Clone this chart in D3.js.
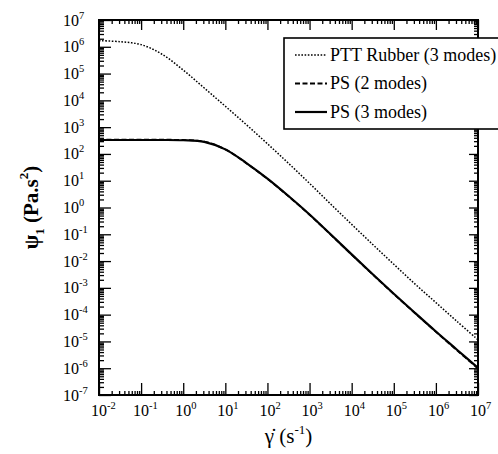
<!DOCTYPE html>
<html>
<head>
<meta charset="utf-8">
<script src="https://cdn.jsdelivr.net/npm/d3@7"></script>
<style>
  body { margin: 0; background: #fff; }
  text { font-family: "Liberation Serif", "Times New Roman", serif; fill: #000; }
</style>
</head>
<body>
<div id="chart"></div>
<script>
// shear rate exponents (log10 of s^-1) at which the curves were read
const logRate = [-2, -1.5, -1, -0.5, 0, 0.5, 1, 1.5, 2, 2.5, 3, 3.5, 4, 4.5, 5, 5.5, 6, 6.5, 7]
// log10 of psi1 (Pa.s^2)
const pttRubber3 = [6.23, 6.19, 6.08, 5.72, 5.13, 4.46, 3.78, 3.09, 2.38, 1.65, 0.90, 0.13, -0.63, -1.38, -2.12, -2.85, -3.55, -4.25, -4.94]
const ps2 = [2.53, 2.53, 2.53, 2.53, 2.52, 2.46, 2.17, 1.65, 1.07, 0.42, -0.27, -1.01, -1.76, -2.50, -3.23, -3.94, -4.64, -5.33, -6.01]
const ps3 = [2.52, 2.52, 2.52, 2.52, 2.51, 2.45, 2.17, 1.66, 1.08, 0.43, -0.26, -1.00, -1.75, -2.49, -3.22, -3.93, -4.63, -5.31, -5.99]

const xTickExps = [-2, -1, 0, 1, 2, 3, 4, 5, 6, 7]
const yTickExps = [7, 6, 5, 4, 3, 2, 1, 0, -1, -2, -3, -4, -5, -6, -7]
const legendLabels = ['PTT Rubber (3 modes)', 'PS (2 modes)', 'PS (3 modes)']

const W = 498, H = 454
const m = { left: 99, right: 20, top: 20, bottom: 59 }

const svg = d3.select('#chart').append('svg')
  .attr('width', W)
  .attr('height', H)

const x = d3.scaleLog().domain([1e-2, 1e7]).range([m.left, W - m.right])
const y = d3.scaleLog().domain([1e-7, 1e7]).range([H - m.bottom, m.top])

const minors = exps => {
  const out = []
  exps.slice(0, -1).forEach((e, i) => {
    const lo = Math.min(e, exps[i + 1])
    for (let k = 2; k < 10; k++) out.push(k * Math.pow(10, lo))
  })
  return out
}
const xMajor = xTickExps.map(e => Math.pow(10, e))
const yMajor = yTickExps.map(e => Math.pow(10, e))
const xMinor = minors(xTickExps)
const yMinor = minors(yTickExps)

const axes = svg.append('g')
function ticks(axisFn, scale, vals, size, tr) {
  axes.append('g')
    .attr('transform', tr)
    .call(axisFn(scale).tickValues(vals).tickSize(size).tickSizeOuter(0).tickFormat(''))
    .call(g => g.select('.domain').remove())
    .selectAll('line').attr('stroke', '#000').attr('stroke-width', 1.3)
}
const bottomY = H - m.bottom, rightX = W - m.right
ticks(d3.axisBottom, x, xMajor, -12, `translate(0,${bottomY})`)
ticks(d3.axisBottom, x, xMinor, -4, `translate(0,${bottomY})`)
ticks(d3.axisTop, x, xMajor, -10, `translate(0,${m.top})`)
ticks(d3.axisTop, x, xMinor, -4, `translate(0,${m.top})`)
ticks(d3.axisLeft, y, yMajor, -12, `translate(${m.left},0)`)
ticks(d3.axisLeft, y, yMinor, -5, `translate(${m.left},0)`)
ticks(d3.axisRight, y, yMajor, -9, `translate(${rightX},0)`)
ticks(d3.axisRight, y, yMinor, -4, `translate(${rightX},0)`)

// tick labels: 10 with superscript exponent
xTickExps.forEach(e => {
  const t = svg.append('text')
    .attr('x', x(Math.pow(10, e)) - 8)
    .attr('y', bottomY + 21)
    .attr('font-size', 16)
  t.append('tspan').text('10')
  t.append('tspan').attr('font-size', 10.5).attr('dy', -7).text(e)
})
yTickExps.forEach(e => {
  const t = svg.append('text')
    .attr('x', 63)
    .attr('y', y(Math.pow(10, e)) + 5.5)
    .attr('font-size', 16)
  t.append('tspan').text('10')
  t.append('tspan').attr('font-size', 10.5).attr('dy', -7).text(e)
})

// curves
const line = d3.line()
  .x(d => x(Math.pow(10, d[0])))
  .y(d => y(Math.pow(10, d[1])))
  .curve(d3.curveCatmullRom)

const series = [
  { vals: pttRubber3, dash: '1.6,1.6', width: 1.5 },
  { vals: ps3, dash: null, width: 2.2 },
  { vals: ps2, dash: '5,2.5', width: 1.8 }
]
const plot = svg.append('g')
series.forEach(s => {
  plot.append('path')
    .datum(logRate.map((r, i) => [r, s.vals[i]]))
    .attr('d', line)
    .attr('fill', 'none')
    .attr('stroke', '#000')
    .attr('stroke-width', s.width)
    .attr('stroke-dasharray', s.dash)
})

// frame
svg.append('rect')
  .attr('x', m.left).attr('y', m.top)
  .attr('width', rightX - m.left).attr('height', bottomY - m.top)
  .attr('fill', 'none').attr('stroke', '#000').attr('stroke-width', 2)

// legend
const lg = svg.append('g').attr('transform', 'translate(284,38)')
lg.append('rect')
  .attr('width', 230).attr('height', 91)
  .attr('fill', '#fff').attr('stroke', '#000').attr('stroke-width', 1.6)
const legendStyles = [series[0], series[2], series[1]]
legendLabels.forEach((lab, i) => {
  const cy = 17 + i * 28.5
  lg.append('line')
    .attr('x1', 11).attr('x2', 43).attr('y1', cy).attr('y2', cy)
    .attr('stroke', '#000')
    .attr('stroke-width', legendStyles[i].width)
    .attr('stroke-dasharray', legendStyles[i].dash)
  lg.append('text')
    .attr('x', 46).attr('y', cy + 5.5)
    .attr('font-size', 18)
    .text(lab)
})

// axis titles
const yt = svg.append('text')
  .attr('transform', `translate(38,${(m.top + bottomY) / 2}) rotate(-90)`)
  .attr('text-anchor', 'middle')
  .attr('font-size', 21)
  .attr('font-weight', 'bold')
yt.append('tspan').text('ψ')
yt.append('tspan').attr('font-size', 13).attr('dy', 6).text('1')
yt.append('tspan').attr('dy', -6).text(' (Pa.s')
yt.append('tspan').attr('font-size', 13).attr('dy', -10).text('2')
yt.append('tspan').attr('dy', 10).text(')')

const xt = svg.append('text')
  .attr('x', (m.left + rightX) / 2)
  .attr('y', 443)
  .attr('text-anchor', 'middle')
  .attr('font-size', 21)
xt.append('tspan').text('γ\u0307 (s')
xt.append('tspan').attr('font-size', 13).attr('dy', -9).text('-1')
xt.append('tspan').attr('dy', 9).text(')')
</script>
</body>
</html>
